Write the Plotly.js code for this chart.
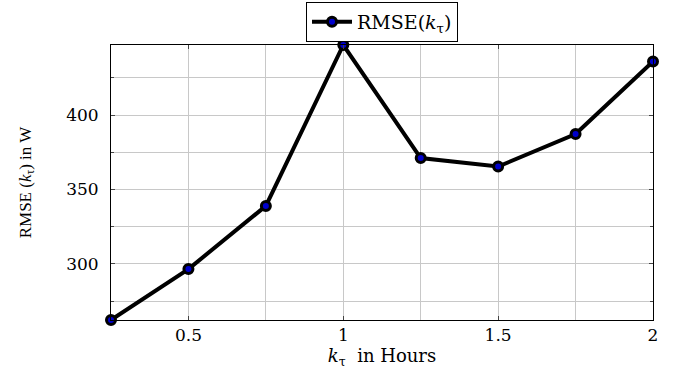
<!DOCTYPE html>
<html>
<head>
<meta charset="utf-8">
<script src="https://cdn.plot.ly/plotly-3.0.1.min.js"></script>
<style>html,body{margin:0;padding:0;background:#fff;}#chart{width:675px;height:372px;}</style>
</head>
<body>
<div id="chart"></div>
<script>
const kTau = [0.25, 0.5, 0.75, 1.0, 1.25, 1.5, 1.75, 2.0];
const rmse = [262.4, 296.6, 339.0, 447.0, 371.1, 365.4, 387.2, 435.9];
const xTickVals = [0.5, 1, 1.5, 2];
const xTickText = ['0.5', '1', '1.5', '2'];
const yTickVals = [300, 350, 400];
const yTickText = ['300', '350', '400'];
const seriesName = 'RMSE(<i>k</i><sub>τ</sub>)';
const xTitle = '<i>k</i><sub>τ</sub>  in Hours';
const yTitle = 'RMSE (<i>k</i><sub>τ</sub>) in W';

const wide = 'DejaVu Serif, Liberation Serif, serif';
const narrow = 'Liberation Serif, DejaVu Serif, serif';

const trace = {
  x: kTau, y: rmse, type: 'scatter', mode: 'lines+markers',
  name: seriesName,
  line: {color: '#000', width: 4},
  marker: {symbol: 'circle', size: 9, color: '#0000cc', line: {color: '#000', width: 3}},
  cliponaxis: false
};

const layout = {
  width: 675, height: 372,
  margin: {l: 111, r: 22, t: 45, b: 52},
  paper_bgcolor: '#fff', plot_bgcolor: '#fff',
  font: {family: wide, size: 16, color: '#000'},
  showlegend: true,
  legend: {
    x: 0.5, xref: 'paper', y: 0.995, yref: 'container', xanchor: 'center', yanchor: 'top',
    orientation: 'h', bordercolor: '#000', borderwidth: 1, bgcolor: '#fff',
    itemwidth: 40,
    font: {family: wide, size: 19, color: '#000'}
  },
  xaxis: {
    range: [0.25, 2], tickvals: xTickVals, ticktext: xTickText,
    showgrid: true, gridcolor: '#c8c8c8', gridwidth: 1,
    minor: {dtick: 0.25, tick0: 0, showgrid: true, gridcolor: '#c8c8c8', gridwidth: 1, ticks: ''},
    ticks: 'inside', ticklen: 4, tickcolor: '#444',
    showline: true, linecolor: '#000', linewidth: 1, mirror: 'ticks',
    zeroline: false,
    tickfont: {family: wide, size: 17},
    title: {text: xTitle, font: {family: wide, size: 18}, standoff: 2}
  },
  yaxis: {
    range: [262.4, 447], tickvals: yTickVals, ticktext: yTickText,
    showgrid: true, gridcolor: '#c8c8c8', gridwidth: 1,
    minor: {dtick: 25, tick0: 0, showgrid: true, gridcolor: '#c8c8c8', gridwidth: 1, ticks: 'inside', ticklen: 3, tickcolor: '#444'},
    ticks: 'inside', ticklen: 4, tickcolor: '#444',
    showline: true, linecolor: '#000', linewidth: 1, mirror: 'ticks',
    zeroline: false,
    ticklabelstandoff: 8,
    tickfont: {family: wide, size: 17},
    title: {text: yTitle, font: {family: narrow, size: 17}, standoff: 30}
  }
};

Plotly.newPlot('chart', [trace], layout, {staticPlot: true, displayModeBar: false});
</script>
</body>
</html>
